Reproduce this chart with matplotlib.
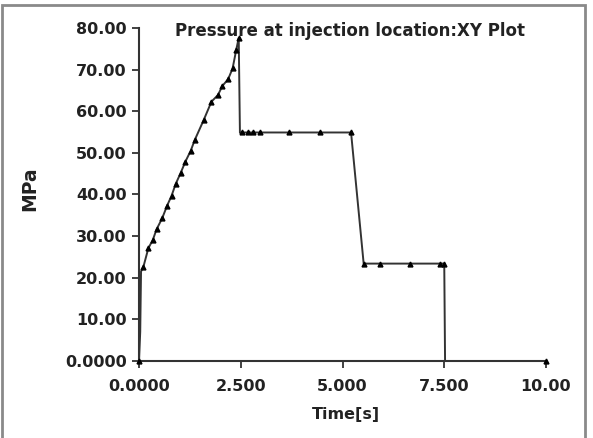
import matplotlib
matplotlib.use("Agg")
import matplotlib.pyplot as plt
from matplotlib.patches import Rectangle

# pressure trace
time_s = [0.0, 0.03, 0.05, 0.11, 0.23, 0.34, 0.43, 0.57, 0.69, 0.80, 0.90, 1.02, 1.14,
          1.27, 1.37, 1.59, 1.78, 1.94, 2.05, 2.19, 2.30, 2.39, 2.45, 2.48, 2.52, 2.68,
          2.79, 2.98, 3.68, 4.44, 5.21, 5.52, 5.92, 6.67, 7.40, 7.50, 7.52, 10.0]
pressure = [0.0, 7.0, 21.5, 22.7, 27.1, 29.1, 31.6, 34.3, 37.3, 39.7, 42.5, 45.1, 47.9,
            50.5, 53.1, 57.9, 62.3, 63.9, 66.1, 67.7, 70.3, 74.8, 77.6, 54.8, 54.9, 54.9,
            54.9, 54.9, 54.9, 54.9, 54.9, 23.4, 23.4, 23.4, 23.4, 23.4, 0.0, 0.0]
no_marker = [1, 2, 23, 36]

xticks = [0, 2.5, 5, 7.5, 10]
xtick_labels = ["0.0000", "2.500", "5.000", "7.500", "10.00"]
yticks = [0, 10, 20, 30, 40, 50, 60, 70, 80]
ytick_labels = ["0.0000", "10.00", "20.00", "30.00", "40.00", "50.00", "60.00", "70.00", "80.00"]

plt.rcParams['font.family'] = ['DejaVu Sans']
plt.rcParams['font.weight'] = 'bold'

fig = plt.figure(figsize=(5.93, 4.38), dpi=100)
ax = fig.add_axes([139 / 593, 1 - 361 / 438, 407 / 593, 333 / 438])

marks = [i for i in range(len(time_s)) if i not in no_marker]
ax.plot(time_s, pressure, color="#333333", lw=1.4, clip_on=False, zorder=3)
ax.plot([time_s[i] for i in marks], [pressure[i] for i in marks], ls="none",
        marker="^", ms=3.5, color="black", clip_on=False, zorder=4)

ax.set_xlim(0, 10)
ax.set_ylim(0, 80)
ax.set_xticks(xticks)
ax.set_xticklabels(xtick_labels, fontsize=11.5, fontweight="bold", color="#222222")
ax.set_yticks(yticks)
ax.set_yticklabels(ytick_labels, fontsize=11.5, fontweight="bold", color="#222222")
ax.tick_params(direction="out", length=5, width=1.3, color="#333333")
ax.tick_params(axis="x", pad=8)
ax.tick_params(axis="y", pad=4)

for s in ["top", "right"]:
    ax.spines[s].set_visible(False)
for s in ["left", "bottom"]:
    ax.spines[s].set_color("#333333")
    ax.spines[s].set_linewidth(1.5)

fig.text(346 / 593, 1 - 414 / 438, "Time[s]", fontsize=11.5, fontweight="bold",
         color="#222222", ha="center", va="center")
fig.text(30 / 593, 1 - 189 / 438, "MPa", rotation=90, fontsize=13.5, fontweight="bold",
         color="#222222", ha="center", va="center")
fig.text(350 / 593, 1 - 31 / 438, "Pressure at injection location:XY Plot", fontsize=12,
         fontweight="bold", color="#222222", ha="center", va="center")

# grey frame round the whole picture
fig.patches.append(Rectangle((2 / 593, -0.05), 583 / 593, 1.05 - 5 / 438,
                             transform=fig.transFigure, fill=False,
                             edgecolor="#8a8a8a", lw=2))

fig.savefig("out.png", dpi=100)
